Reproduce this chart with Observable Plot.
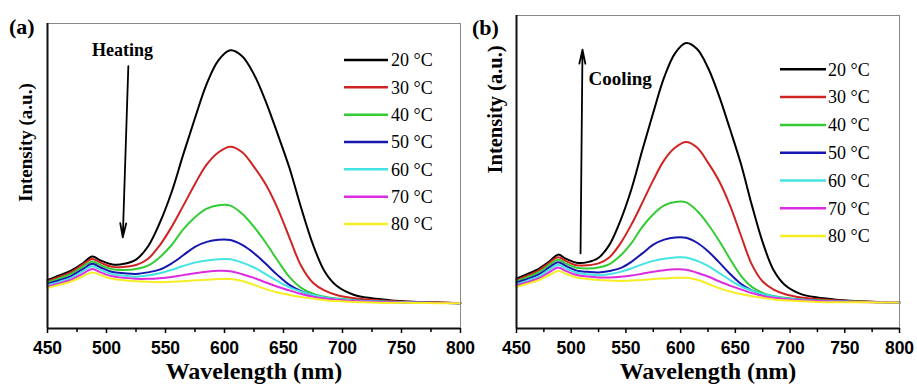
<!DOCTYPE html>
<html><head><meta charset="utf-8">
<script src="https://cdn.jsdelivr.net/npm/d3@7"></script>
<script src="https://cdn.jsdelivr.net/npm/@observablehq/plot@0.6"></script>
<style>
body{margin:0;background:#fff;}
#wrap{position:relative;width:917px;height:385px;overflow:hidden;background:#fff;}
#wrap > svg{position:absolute;top:0;}
</style></head><body><div id="wrap"></div>
<script>
const wavelengths = [450,460,470,480,488,495,505,515,525,535,545,555,565,575,585,595,605,615,625,635,645,655,665,675,685,695,710,725,740,760,780,800];
const temperatures = [20,30,40,50,60,70,80];
const colors = ["#000000","#d02424","#34cc34","#1616b0","#44e4e4","#dc2ce0","#f6ee24"];
const s20 = [15.9,17.4,19.0,21.4,23.6,22.3,21.0,21.2,22.6,26.8,34.5,44.5,57.0,69.0,80.3,88.0,91.2,89.3,83.3,74.4,63.8,52.7,39.5,27.5,18.6,14.0,11.0,9.9,9.3,8.8,8.5,8.3];
const s30 = [15.5,16.9,18.5,21.0,22.8,21.6,20.2,20.2,20.8,22.8,27.2,33.2,40.2,47.4,53.8,57.8,59.6,57.8,53.0,47.2,39.4,29.8,20.5,15.0,12.4,11.0,9.9,9.4,9.0,8.7,8.5,8.3];
const s40 = [15.1,16.4,17.9,20.3,22.0,20.8,19.4,19.2,19.5,20.6,23.3,27.3,32.5,36.5,39.3,40.4,40.3,37.6,33.3,28.1,22.3,16.9,13.3,11.4,10.4,9.8,9.3,9.0,8.8,8.6,8.4,8.3];
const s50 = [14.6,15.8,17.2,19.5,21.2,20.0,18.5,18.1,17.9,18.4,19.3,21.3,24.0,26.8,28.4,29.1,29.0,27.4,24.7,21.2,17.5,14.3,12.2,10.9,10.1,9.6,9.2,8.9,8.7,8.5,8.4,8.3];
const s60 = [14.2,15.3,16.6,18.8,20.4,19.2,17.8,17.3,17.0,17.4,18.1,19.2,20.5,21.6,22.3,22.7,22.7,21.6,20.0,17.8,15.5,13.5,12.1,11.0,10.2,9.7,9.2,8.9,8.7,8.5,8.4,8.3];
const s70 = [13.8,14.8,16.0,18.0,19.5,18.4,17.1,16.6,16.3,16.3,16.5,16.9,17.5,18.1,18.6,18.9,18.8,17.8,16.6,15.1,13.7,12.5,11.3,10.4,9.8,9.4,9.0,8.8,8.6,8.5,8.4,8.3];
const s80 = [13.3,14.3,15.4,17.1,18.4,17.5,16.3,15.8,15.5,15.3,15.2,15.3,15.5,15.8,16.0,16.2,16.2,15.6,14.3,12.9,11.8,11.0,10.3,9.8,9.3,9.0,8.7,8.5,8.4,8.4,8.3,8.3];
const series = [s20,s30,s40,s50,s60,s70,s80];
const majorTicks = [450,500,550,600,650,700,750,800];
const minorTicks = [475,525,575,625,675,725,775];
const legendLabels = temperatures.map(t => t + " °C");
const xTitle = "Wavelength (nm)";
const yTitle = "Intensity (a.u.)";
const panelLabels = ["(a)","(b)"];
const annotations = ["Heating","Cooling"];
// arrow endpoints in data units (wavelength, intensity)
const arrowA = {x1: 518.5, y1: 86.0, x2: 513.8, y2: 29.9};
const arrowB = {x1: 508.5, y1: 24.0, x2: 510.3, y2: 89.1};
const textA = {x: 513.6, y: 91.2};
const textB = {x: 515.8, y: 79.8};

const rows = [];
series.forEach((s, k) => s.forEach((v, i) => rows.push({wl: wavelengths[i], I: v, T: temperatures[k]})));

const serif = "'Liberation Serif','Times New Roman',serif";
const sans = "'Liberation Sans',Arial,sans-serif";

function panel(cfg) {
  return Plot.plot({
    width: cfg.width, height: 385,
    marginLeft: cfg.ml, marginRight: cfg.mr, marginTop: cfg.mt, marginBottom: 57,
    style: {background: "transparent", overflow: "visible", color: "#000"},
    x: {domain: [450, 800], label: null},
    y: {domain: [0, 100], axis: null},
    color: {domain: temperatures, range: colors},
    marks: [
      Plot.line(rows, {x: "wl", y: "I", z: "T", stroke: "T", strokeWidth: 2, curve: "catmull-rom"}),
      Plot.frame({stroke: "#888", strokeWidth: 1}),
      Plot.ruleX([450], {stroke: "#111", strokeWidth: 2}),
      Plot.ruleY([0], {stroke: "#111", strokeWidth: 2}),
      Plot.axisX({ticks: majorTicks, tickSize: 5, tickPadding: 8, tickFormat: d => d, fontSize: 17.5, fontWeight: "bold", fontFamily: sans, label: null, strokeWidth: 1.5}),
      Plot.axisX({ticks: minorTicks, tickSize: 4, tickFormat: () => "", label: null, strokeWidth: 1.5}),
      Plot.text([xTitle], {frameAnchor: "bottom", dy: 50, fontSize: 24, fontWeight: "bold", fontFamily: serif, fill: "#000"}),
      Plot.text([yTitle], {frameAnchor: "left", dx: cfg.ydx, dy: cfg.ydy, rotate: -90, fontSize: cfg.yfs, fontWeight: "bold", fontFamily: serif, fill: "#000"}),
      Plot.arrow([cfg.arrow], {x1: "x1", y1: "y1", x2: "x2", y2: "y2", stroke: "#000", strokeWidth: 1.8, headLength: 12, headAngle: 24}),
      Plot.text([cfg.note], {x: cfg.notePos.x, y: cfg.notePos.y, textAnchor: cfg.noteAnchor, fontSize: cfg.nfs, fontWeight: "bold", fontFamily: serif, fill: "#000"})
    ]
  });
}

const wrap = document.getElementById("wrap");
const pa = panel({width: 462, ml: 47, mr: 2, mt: 23, ydx: -22, ydy: 26, yfs: 19, arrow: arrowA, note: annotations[0], notePos: textA, noteAnchor: "middle", nfs: 18});
pa.style.left = "0px";
wrap.appendChild(pa);
const pb = panel({width: 457, ml: 56, mr: 18, mt: 15, ydx: -21, ydy: 1.5, yfs: 20.5, arrow: arrowB, note: annotations[1], notePos: textB, noteAnchor: "start", nfs: 19});
pb.style.left = "460px";
wrap.appendChild(pb);

// overlay: legends and panel labels
const ov = d3.select(wrap).append("svg").attr("width", 917).attr("height", 385).style("left", "0px").style("pointer-events", "none");
function legend(x1, x2, tx, y0, dy) {
  temperatures.forEach((t, i) => {
    const y = y0 + i * dy;
    ov.append("line").attr("x1", x1).attr("x2", x2).attr("y1", y).attr("y2", y).attr("stroke", colors[i]).attr("stroke-width", 2.5);
    ov.append("text").attr("x", tx).attr("y", y).attr("dy", "0.35em").attr("font-family", serif).attr("font-size", 18).attr("fill", "#000").text(legendLabels[i]);
  });
}
legend(344, 388, 391, 60, 27.33);
legend(780, 826, 828, 69.3, 27.8);
ov.append("text").attr("x", 9).attr("y", 26).attr("dy", "0.35em").attr("font-family", serif).attr("font-weight", "bold").attr("font-size", 22).text(panelLabels[0]);
ov.append("text").attr("x", 472).attr("y", 27).attr("dy", "0.35em").attr("font-family", serif).attr("font-weight", "bold").attr("font-size", 22).text(panelLabels[1]);
</script></body></html>
